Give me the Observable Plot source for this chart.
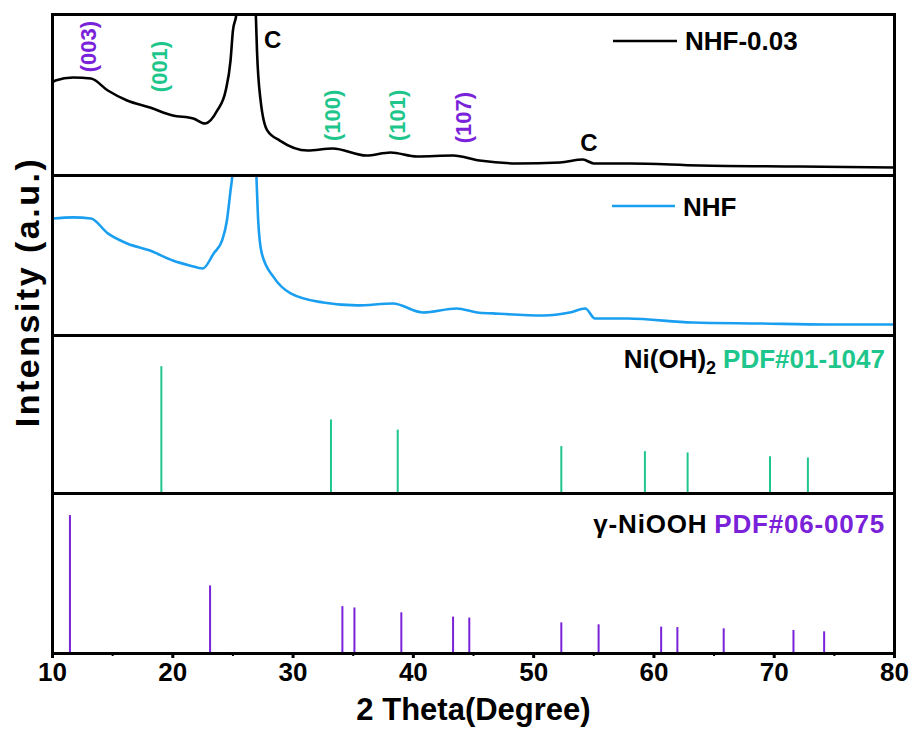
<!DOCTYPE html>
<html><head><meta charset="utf-8">
<script src="https://cdn.jsdelivr.net/npm/d3@7"></script>
<script src="https://cdn.jsdelivr.net/npm/@observablehq/plot@0.6"></script>
<style>
body{margin:0;background:#fff;}
#chart{position:relative;width:914px;height:734px;font-family:"Liberation Sans",Arial,sans-serif;font-weight:bold;overflow:hidden;}
#ylab{position:absolute;left:27px;top:292px;transform:translate(-50%,-50%) rotate(-90deg);font-size:34px;letter-spacing:2.5px;white-space:nowrap;color:#000;}
</style></head><body><div id="chart"><div id="ylab">Intensity (a.u.)</div></div>
<script>
// ---- NHF-0.03 pattern (black) ----
const nhf003_2theta = [10.0,10.25,11.7,13.2,14.6,16.2,18.1,20.0,21.7,22.7,23.7,24.4,24.8,25.0,25.3,25.6,26.1,26.6,26.9,27.0,27.3,27.85,28.9,31.2,33.3,36.1,38.1,40.3,43.3,45.5,48.6,52.2,54.1,55.0,58.0,63.8,72.1,80.0];
const nhf003_int    = [57.8,59,60.9,60.2,52.8,46.6,42.2,37.3,35.4,32.3,40.4,52.8,71.4,90,101,180,300,180,101,77.6,46.6,28,21.7,15.5,16.8,12.4,14.3,11.8,12.4,9.3,7.5,8.1,9.9,7.5,7.5,6.2,5.6,5];
// ---- NHF pattern (blue) ----
const nhf_2theta = [10.0,11.7,13.2,14.6,16.2,18.1,20.0,21.4,22.5,23.4,24.1,24.5,24.8,24.95,25.4,26.0,26.5,26.95,27.1,27.4,28.4,29.8,32.5,35.3,38.3,40.8,43.6,45.3,46.6,50.8,53.0,54.3,55.1,57.8,63.2,68.8,74.4,80.0];
const nhf_int    = [73.1,73.8,73.1,63.8,57.5,53.1,46.9,43.8,41.9,51.3,59.4,71.9,90.6,100,180,300,180,100,71.9,51.3,36.3,26.3,20.6,18.8,20,14.4,16.9,14.4,13.8,12.5,14.4,16.9,10.6,10.6,8.1,7.5,6.9,6.9];
// ---- Ni(OH)2 PDF#01-1047 reference ----
const nioh2_2theta = [19.05,33.15,38.7,52.3,59.25,62.8,69.65,72.8];
const nioh2_int    = [100,58,50,37,33,32,29,28];
// ---- gamma-NiOOH PDF#06-0075 reference ----
const niooh_2theta = [11.45,23.1,34.1,35.1,39.0,43.3,44.65,52.3,55.4,60.6,61.95,65.8,71.6,74.15];
const niooh_int    = [100,49,34,33,29.5,26.4,25.7,22.2,20.8,19.1,18.8,17.9,16.7,15.7];
// ---- peak annotations ----
const hklLabels = ["(003)","(001)","(100)","(101)","(107)"];
const hkl2theta = [13.0,18.95,33.35,38.7,44.2];
const hklY      = [80,67.7,37.3,37.3,36];
const hklPhase  = ["NiOOH","NiOH2","NiOH2","NiOH2","NiOOH"];
const cLabels = ["C","C"];
const c2theta = [28.3,54.6];
const cY      = [84,20];
const xTicks = [10,20,30,40,50,60,70,80];
const xMinor = [15,25,35,45,55,65,75];

const purple = "#7a22d9", green = "#1fc68c", blue = "#1a9ff0";
const font = '"Liberation Sans", Arial, sans-serif';
const W = 914, ML = 52, MR = 20;
const chart = document.getElementById("chart");

const rows = (xs, ys) => xs.map((x,i)=>({x, y: ys[i]}));

function panel(top, h, yDomain, marks, bottom = 0, xAxisOn = false) {
  const svg = Plot.plot({
    width: W, height: h + bottom,
    marginLeft: ML, marginRight: MR, marginTop: 0, marginBottom: bottom,
    x: {domain: [10, 80], ...(xAxisOn ? {} : {axis: null})},
    y: {domain: yDomain, axis: null},
    style: {background: "none", overflow: "visible", fontFamily: font, fontWeight: "bold", fontSize: "26px", color: "#000"},
    marks
  });
  svg.style.position = "absolute";
  svg.style.left = "0px";
  svg.style.top = top + "px";
  chart.appendChild(svg);
  return d3.select(svg);
}

// Panel 1
const p1 = panel(14, 161, [0,100], [
  Plot.line(rows(nhf003_2theta, nhf003_int), {x:"x", y:"y", stroke:"#000", strokeWidth:2.6, curve:"monotone-x", clip:true}),
  Plot.text(hklLabels, {x:(d,i)=>hkl2theta[i], y:(d,i)=>hklY[i], text:d=>d, rotate:-90, fontSize:22, fontWeight:"bold",
    fill:(d,i)=>hklPhase[i]==="NiOOH"?purple:green}),
  Plot.text(cLabels, {x:(d,i)=>c2theta[i], y:(d,i)=>cY[i], text:d=>d, fontSize:24, fontWeight:"bold", fill:"#000"}),
  Plot.frame({stroke:"#000", strokeWidth:3})
]);
p1.append("line").attr("x1",613).attr("x2",677).attr("y1",27).attr("y2",27).attr("stroke","#000").attr("stroke-width",2.5);
p1.append("text").attr("x",685).attr("y",36).attr("text-anchor","start").attr("font-size",26).attr("fill","#000").text("NHF-0.03");

// Panel 2
const p2 = panel(175, 160, [0,100], [
  Plot.line(rows(nhf_2theta, nhf_int), {x:"x", y:"y", stroke:blue, strokeWidth:2.6, curve:"monotone-x", clip:true}),
  Plot.frame({stroke:"#000", strokeWidth:3})
]);
p2.append("line").attr("x1",612).attr("x2",675).attr("y1",31).attr("y2",31).attr("stroke",blue).attr("stroke-width",2.5);
p2.append("text").attr("x",683).attr("y",41).attr("text-anchor","start").attr("font-size",26).attr("fill","#000").text("NHF");

// Panel 3
const p3 = panel(335, 158, [0,124.6], [
  Plot.ruleX(rows(nioh2_2theta, nioh2_int), {x:"x", y1:0, y2:"y", stroke:green, strokeWidth:2}),
  Plot.frame({stroke:"#000", strokeWidth:3})
]);
{
  const t = p3.append("text").attr("x",885).attr("y",33).attr("text-anchor","end").attr("font-size",26).attr("fill","#000");
  t.append("tspan").text("Ni(OH)");
  t.append("tspan").attr("font-size",18).attr("dy",6).text("2");
  t.append("tspan").attr("dy",-6).attr("dx",7).attr("fill",green).text("PDF#01-1047");
}

// Panel 4 with x axis
const p4 = panel(493, 160, [0,116], [
  Plot.ruleX(rows(niooh_2theta, niooh_int), {x:"x", y1:0, y2:"y", stroke:purple, strokeWidth:2}),
  Plot.frame({stroke:"#000", strokeWidth:3}),
  Plot.axisX({ticks: xMinor, tickSize: 3, strokeWidth: 2, text: null, label: null}),
  Plot.axisX({ticks: xTicks, tickSize: 5, strokeWidth: 3, tickPadding: 4, fontSize: 26, fontWeight: "bold", label: null}),
  Plot.text(["2 Theta(Degree)"], {frameAnchor:"bottom", dy: 66, fontSize: 31, fontWeight:"bold", fill:"#000", text:d=>d})
], 81, true);
p4.selectAll("text").filter(function(){ return /^\d+$/.test(this.textContent.trim()); })
  .attr("font-size", 26).style("font-size", "26px").style("font-weight", "bold");
p4.selectAll("text").filter(function(){ return /^\d+$/.test(this.textContent.trim()); })
  .each(function(){ const g = this.parentNode; if (g && g.tagName === "g") { g.setAttribute("font-size", "26"); g.style.fontSize = "26px"; } });
{
  const t = p4.append("text").attr("x",885).attr("y",40).attr("text-anchor","end").attr("font-size",26)
    .attr("letter-spacing","0.8px").attr("fill","#000");
  t.append("tspan").text("γ-NiOOH");
  t.append("tspan").attr("dx",7).attr("fill",purple).text("PDF#06-0075");
}
</script>
</body></html>
